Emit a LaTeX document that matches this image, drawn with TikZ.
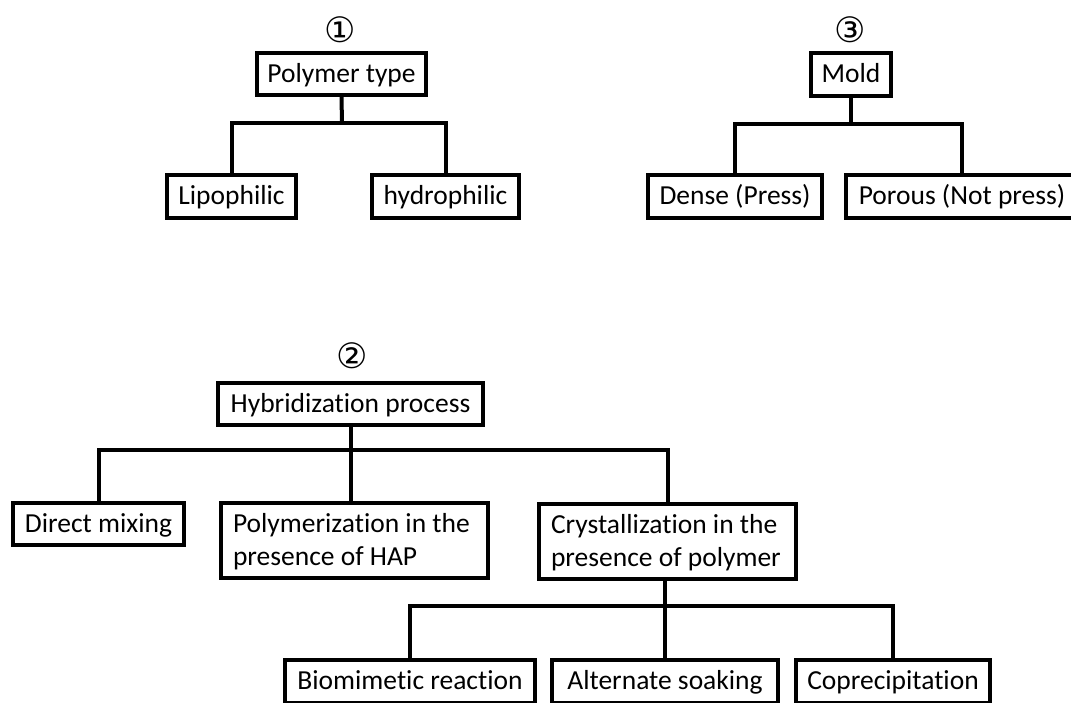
\documentclass[tikz,border=0pt]{standalone}
\usepackage{fontspec}
\setmainfont{Carlito}[Ligatures=NoCommon]
\newfontfamily\symfont{DejaVu Sans}
\newcommand\boxfont{\fontsize{27.5}{33}\selectfont}
\newcommand\mystrut{\rule[-6pt]{0pt}{28pt}}
\begin{document}
\begin{tikzpicture}[x=1pt,y=-1pt,
  box/.style={draw, line width=4pt, inner sep=0pt, font=\boxfont, text height=22pt, text depth=6pt, line join=miter},
  tbox/.style={draw, line width=4pt, inner xsep=12pt, inner ysep=0pt, font=\boxfont, align=flush left, line join=miter},
  link/.style={line width=4pt, line join=miter},
  num/.style={font=\symfont\fontsize{35}{40}\selectfont, inner sep=0pt}]
\useasboundingbox[fill=white] (0,0) rectangle (1071,702);
\clip (0,0) rectangle (1071,702);

% group 1
\node[num] (n1) at (340,30) {①};
\node[box, minimum width=169pt, minimum height=42pt] (poly) at (341.5,74) {Polymer type};
\node[box, minimum width=129pt, minimum height=43pt] (lipo) at (231.5,196.5) {Lipophilic};
\node[box, minimum width=147pt, minimum height=43pt] (hydro) at (445.5,196.5) {hydrophilic};
\coordinate (b1) at (342,123);
\draw[link] (poly.south) -- (b1);
\draw[link] (lipo.north) |- (b1) -| (hydro.north);

% group 3
\node[num] (n3) at (850,30) {③};
\node[box, minimum width=80pt, minimum height=43pt] (mold) at (851,74.5) {Mold};
\node[box, minimum width=174pt, minimum height=43pt] (dense) at (735,196.5) {Dense (Press)};
\node[box, minimum width=232pt, minimum height=43pt] (porous) at (962,196.5) {Porous (Not press)};
\coordinate (b3) at (851,124);
\draw[link] (mold.south) -- (b3);
\draw[link] (dense.north) |- (b3) -| (porous.north);

% group 2
\node[num] (n2) at (352,356) {②};
\node[box, minimum width=265pt, minimum height=42pt] (hyb) at (350.5,404) {Hybridization process};
\node[box, minimum width=171pt, minimum height=42pt] (direct) at (98.5,524) {Direct mixing};
\node[tbox, text width=243pt, minimum height=75pt] (polym) at (354.5,540.5) {\mbox{\mystrut Polymerization in the}\\\mbox{\mystrut presence of HAP}};
\node[tbox, text width=233pt, minimum height=75pt] (cryst) at (667.5,541.5) {\mbox{\mystrut Crystallization in the}\\\mbox{\mystrut presence of polymer}};
\coordinate (b2) at (350.5,450);
\draw[link] (hyb.south) -- (hyb.south |- polym.north);
\draw[link] (direct.north) |- (b2) -| (cryst.north);

\node[box, minimum width=250pt, minimum height=43pt] (bio) at (410,681.5) {Biomimetic reaction};
\node[box, minimum width=226pt, minimum height=43pt] (alt) at (665,681.5) {Alternate soaking};
\node[box, minimum width=194pt, minimum height=43pt] (copre) at (893,681.5) {Coprecipitation};
\coordinate (b4) at (665,606);
\draw[link] (alt.north) -- (alt.north |- cryst.south);
\draw[link] (bio.north) |- (b4) -| (copre.north);
\end{tikzpicture}
\end{document}
